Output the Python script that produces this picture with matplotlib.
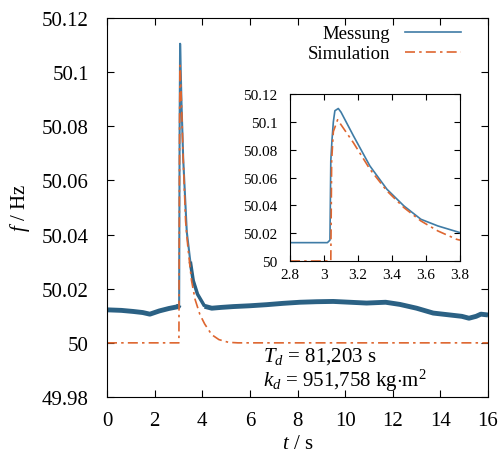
import matplotlib
matplotlib.use("Agg")
import matplotlib.pyplot as plt
from matplotlib.lines import Line2D

# Data
t_mess = [0.0, 0.6, 1.1, 1.5, 1.8, 2.2, 2.6, 3.0, 3.03, 3.05, 3.07, 3.13, 3.2, 3.35,
          3.5, 3.62, 3.8, 4.1, 4.4, 4.8, 5.3, 6.0, 6.7, 7.4, 8.1, 8.8, 9.5, 10.2,
          10.9, 11.7, 12.3, 13.0, 13.7, 14.4, 14.9, 15.2, 15.5, 15.7, 16.0]
f_mess = [50.0122, 50.0120, 50.0116, 50.0112, 50.0106, 50.0118, 50.0127, 50.0134,
          50.0140, 50.080, 50.1105, 50.088, 50.068, 50.041, 50.030, 50.023, 50.018,
          50.0135, 50.0128, 50.0131, 50.0134, 50.0137, 50.0141, 50.0146, 50.0150,
          50.0152, 50.0153, 50.0150, 50.0147, 50.0150, 50.0142, 50.0128, 50.0110,
          50.0103, 50.0098, 50.0091, 50.0098, 50.0106, 50.0103]

t_sim = [0.0, 3.02, 3.03, 3.05, 3.07, 3.13, 3.2, 3.3, 3.4, 3.55, 3.7, 3.9, 4.1,
         4.4, 4.7, 5.1, 5.5, 16.0]
f_sim = [50.0, 50.0, 50.03, 50.085, 50.1025, 50.088, 50.068, 50.045, 50.035,
         50.023, 50.016, 50.0105, 50.007, 50.003, 50.0012, 50.0002, 50.0, 50.0]

# zoomed data for the inset
t_mess_zoom = [2.8, 3.02, 3.035, 3.04, 3.047, 3.055, 3.064, 3.084, 3.1, 3.173,
               3.27, 3.37, 3.47, 3.57, 3.67, 3.8]
f_mess_zoom = [50.0132, 50.0132, 50.015, 50.072, 50.087, 50.100, 50.108, 50.1096,
               50.107, 50.090, 50.0683, 50.0516, 50.0396, 50.030, 50.0252, 50.0204]
t_sim_zoom = [2.8, 3.04, 3.045, 3.055, 3.08, 3.173, 3.27, 3.37, 3.47, 3.57, 3.67, 3.78, 3.8]
f_sim_zoom = [50.0, 50.0, 50.072, 50.093, 50.1015, 50.085, 50.066, 50.0504,
              50.0384, 50.0288, 50.0216, 50.0156, 50.0150]

x_ticks = [0, 2, 4, 6, 8, 10, 12, 14, 16]
y_ticks = [49.98, 50.0, 50.02, 50.04, 50.06, 50.08, 50.1, 50.12]
y_labels = ["49.98", "50", "50.02", "50.04", "50.06", "50.08", "50.1", "50.12"]
xi_ticks = [2.8, 3.0, 3.2, 3.4, 3.6, 3.8]
xi_labels = ["2.8", "3", "3.2", "3.4", "3.6", "3.8"]
yi_ticks = [50.0, 50.02, 50.04, 50.06, 50.08, 50.1, 50.12]
yi_labels = ["50", "50.02", "50.04", "50.06", "50.08", "50.1", "50.12"]

plt.rcParams['font.family'] = ['Liberation Serif', 'DejaVu Serif']
plt.rcParams['mathtext.fontset'] = 'custom'
plt.rcParams['mathtext.rm'] = 'Liberation Serif'
plt.rcParams['mathtext.it'] = 'Liberation Serif:italic'

blue = '#2b6184'
blue_thin = '#3f7ca6'
orange = '#de6630'
dashdot = (0, (6, 2.5, 1.5, 2.5))

fig = plt.figure(figsize=(5.04, 4.56), dpi=100)
ax = fig.add_axes([0.2123, 0.1272, 0.756, 0.8311])

# thin line through the spike, thick noisy band where the signal is flat
ax.plot(t_mess, f_mess, color=blue_thin, lw=1.5)
ax.plot(t_mess[:9], f_mess[:9], color=blue, lw=3.5, solid_capstyle='butt')
ax.plot(t_mess[17:], f_mess[17:], color=blue, lw=3.5, solid_capstyle='butt')
ax.plot(t_mess[14:18], f_mess[14:18], color=blue, lw=2.5, solid_capstyle='butt')
ax.plot(t_sim, f_sim, color=orange, lw=1.2, linestyle=dashdot)

ax.set_xlim(0, 16)
ax.set_ylim(49.98, 50.12)
ax.set_xticks(x_ticks)
ax.set_yticks(y_ticks)
ax.set_yticklabels(y_labels)
ax.tick_params(direction='in', top=True, right=True, length=5, labelsize=15)
ax.tick_params(axis='y', pad=13)
ax.tick_params(axis='x', pad=10)
ax.set_xlabel(r'$t$ / s', fontsize=15, labelpad=3)
ax.set_ylabel(r'$f$ / Hz', fontsize=15, labelpad=7)

handles = [Line2D([], [], color=blue_thin, lw=1.2),
           Line2D([], [], color=orange, lw=1.2, linestyle=dashdot)]
ax.legend(handles, ['Messung', 'Simulation'], loc='upper right', frameon=False,
          markerfirst=False, fontsize=13.5, handlelength=3.0, handletextpad=0.8,
          labelspacing=0.15, borderaxespad=0.3, bbox_to_anchor=(0.964, 1.016))

ax.text(6.55, 49.9953, r'$T_d$ = 81,203 s', fontsize=15, va='center')
ax.text(6.55, 49.9865, r'$k_d$ = 951,758 kg$\cdot$m$^2$', fontsize=15, va='center')

# Inset
axi = fig.add_axes([0.5754, 0.4254, 0.3373, 0.3662])
axi.plot(t_mess_zoom, f_mess_zoom, color=blue_thin, lw=1.2)
axi.plot(t_sim_zoom, f_sim_zoom, color=orange, lw=1.2, linestyle=dashdot)
axi.set_xlim(2.8, 3.8)
axi.set_ylim(50.0, 50.12)
axi.set_xticks(xi_ticks)
axi.set_xticklabels(xi_labels)
axi.set_yticks(yi_ticks)
axi.set_yticklabels(yi_labels)
axi.tick_params(direction='in', top=True, right=True, length=4, labelsize=11)
axi.tick_params(axis='y', pad=9)
axi.tick_params(axis='x', pad=5)

fig.savefig('out.png', dpi=100)
